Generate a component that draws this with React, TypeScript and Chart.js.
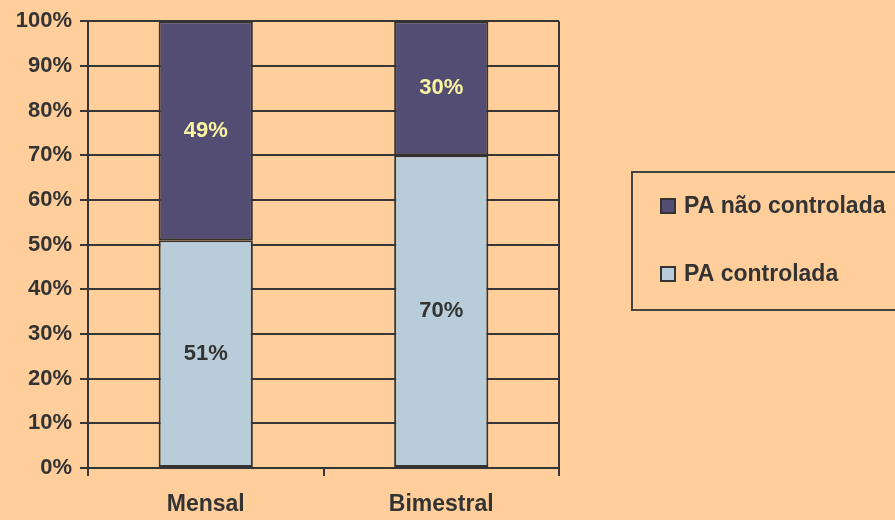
import React, { useEffect, useRef } from "react";
import { Chart, registerables } from "chart.js";

Chart.register(...registerables);

const categories = ["Mensal", "Bimestral"];
const controlada = [51, 70];
const naoControlada = [49, 30];
const seriesNames = ["PA não controlada", "PA controlada"];
const yTicks = [0, 10, 20, 30, 40, 50, 60, 70, 80, 90, 100];

const BG = "#FFCE9B";
const DARK = "#534D73";
const LIGHT = "#B8CDD9";
const INK = "#333333";
const LINE = "#353535";
const FONT = "'Liberation Sans', Arial, sans-serif";

const plugin = {
  id: "custom",
  beforeDraw(chart: any) {
    const ctx = chart.ctx;
    ctx.save();
    ctx.fillStyle = BG;
    ctx.fillRect(0, 0, chart.width, chart.height);
    ctx.restore();
  },
  afterDatasetsDraw(chart: any) {
    const ctx = chart.ctx;
    const ca = chart.chartArea;
    ctx.save();
    ctx.strokeStyle = LINE;
    ctx.lineWidth = 2;
    ctx.beginPath();
    ctx.moveTo(ca.right, ca.top);
    ctx.lineTo(ca.right, ca.bottom + 8);
    ctx.stroke();
    chart.data.datasets.forEach((ds: any, di: number) => {
      const meta = chart.getDatasetMeta(di);
      meta.data.forEach((bar: any, i: number) => {
        const v = ds.data[i];
        const y = (bar.y + bar.base) / 2;
        ctx.font = `bold 22px ${FONT}`;
        ctx.textAlign = "center";
        ctx.textBaseline = "middle";
        ctx.fillStyle = ds.labelColor;
        ctx.fillText(v + "%", bar.x, y);
      });
    });
    const lx = 632, ly = 172, lw = 300, lh = 138;
    ctx.strokeStyle = "#444444";
    ctx.lineWidth = 2;
    ctx.strokeRect(lx, ly, lw, lh);
    const order = [1, 0];
    const rows = [206, 274];
    order.forEach((di, k) => {
      const ds = chart.data.datasets[di];
      const cy = rows[k];
      ctx.fillStyle = ds.backgroundColor;
      ctx.fillRect(661, cy - 7, 14, 14);
      ctx.strokeStyle = INK;
      ctx.lineWidth = 2;
      ctx.strokeRect(661, cy - 7, 14, 14);
      ctx.fillStyle = INK;
      ctx.font = `bold 23px ${FONT}`;
      ctx.textAlign = "left";
      ctx.textBaseline = "middle";
      ctx.fillText(ds.label, 684, cy + 1);
    });
    ctx.restore();
  },
};

export default function App() {
  const ref = useRef<HTMLCanvasElement>(null);
  useEffect(() => {
    document.body.style.margin = "0";
    const chart = new Chart(ref.current!, {
      type: "bar",
      data: {
        labels: categories,
        datasets: [
          {
            label: seriesNames[1],
            data: controlada,
            backgroundColor: LIGHT,
            borderColor: INK,
            borderWidth: 2,
            borderSkipped: false,
            labelColor: INK,
          } as any,
          {
            label: seriesNames[0],
            data: naoControlada,
            backgroundColor: DARK,
            borderColor: INK,
            borderWidth: 2,
            borderSkipped: false,
            labelColor: "#FAF5A0",
          } as any,
        ],
      },
      options: {
        animation: false,
        responsive: false,
        events: [],
        layout: { padding: { top: 19, right: 336, left: 0, bottom: 0 } },
        datasets: { bar: { barPercentage: 0.4, categoryPercentage: 1 } },
        plugins: { legend: { display: false }, tooltip: { enabled: false } },
        scales: {
          x: {
            stacked: true,
            offset: true,
            afterFit: (s: any) => { s.height = 52; },
            grid: {
              offset: true,
              drawOnChartArea: false,
              drawTicks: true,
              tickLength: 8,
              color: LINE,
              lineWidth: 2,
            },
            border: { display: true, color: LINE, width: 2 },
            ticks: {
              color: INK,
              font: { family: FONT, size: 23, weight: "bold" },
              padding: 15,
            },
          },
          y: {
            stacked: true,
            min: 0,
            max: 100,
            afterFit: (s: any) => { s.width = 88; },
            afterBuildTicks: (s: any) => { s.ticks = yTicks.map((v) => ({ value: v })); },
            grid: {
              color: LINE,
              lineWidth: 2,
              tickLength: 8,
            },
            border: { display: true, color: LINE, width: 2 },
            ticks: {
              color: INK,
              font: { family: FONT, size: 22, weight: "bold" },
              padding: 8,
              callback: (v: any) => v + "%",
            },
          },
        },
      } as any,
      plugins: [plugin],
    });
    return () => chart.destroy();
  }, []);
  return (
    <div style={{ width: 895, height: 520 }}>
      <canvas ref={ref} width={895} height={520} style={{ display: "block" }} />
    </div>
  );
}
